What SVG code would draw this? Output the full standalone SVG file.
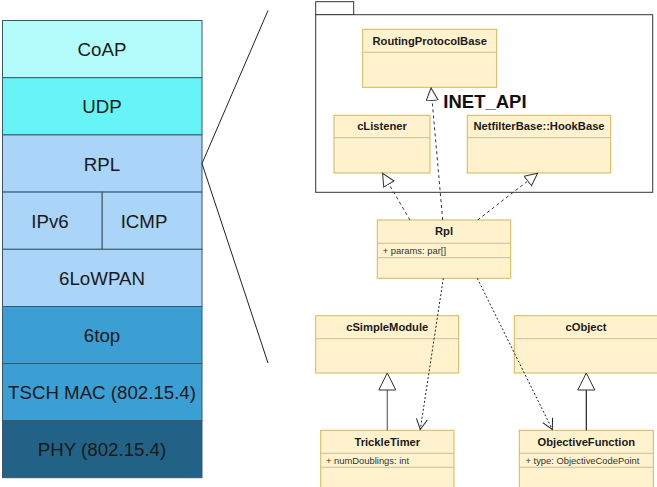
<svg xmlns="http://www.w3.org/2000/svg" width="657" height="487" viewBox="0 0 657 487">
<style>
.layer{stroke:#3b5868;stroke-width:1}
.lt{font-family:"Liberation Sans",Arial,sans-serif;font-size:18.7px;fill:#1a1a1a;text-anchor:middle}
.cls{fill:#fff2cc;stroke:#d6b656;stroke-width:1}
.div{stroke:#c4bea9;stroke-width:1}
.cn{font-family:"Liberation Sans",Arial,sans-serif;font-size:11.2px;font-weight:bold;fill:#1a1a1a;text-anchor:middle}
.at{font-family:"Liberation Sans",Arial,sans-serif;font-size:9.4px;fill:#333}
.dash{fill:none;stroke:#333;stroke-width:1;stroke-dasharray:3 3}
.dep{fill:none;stroke:#222;stroke-width:1;stroke-dasharray:2 2}
</style>
<defs>
<marker id="tri" markerUnits="userSpaceOnUse" markerWidth="16" markerHeight="16" refX="13" refY="6.5" orient="auto">
<path d="M0.5,0.5 L13,6.5 L0.5,12.5 Z" fill="#fff" stroke="#333" stroke-width="1"/>
</marker>
<marker id="triBig" markerUnits="userSpaceOnUse" markerWidth="20" markerHeight="20" refX="17.5" refY="9" orient="auto">
<path d="M0.5,0.5 L17.5,9 L0.5,17.5 Z" fill="#fff" stroke="#333" stroke-width="1"/>
</marker>
<marker id="open" markerUnits="userSpaceOnUse" markerWidth="14" markerHeight="14" refX="11" refY="6" orient="auto">
<path d="M0.5,0.5 L11,6 L0.5,11.5" fill="none" stroke="#222" stroke-width="1"/>
</marker>
</defs>

<g id="stack">
<g id="coap"><rect class="layer" x="2.5" y="20.5" width="199.5" height="57.2" fill="#b3fcfb"/><text class="lt" x="102" y="56.1">CoAP</text></g>
<g id="udp"><rect class="layer" x="2.5" y="77.7" width="199.5" height="57.2" fill="#66f4f7"/><text class="lt" x="102" y="113.3">UDP</text></g>
<g id="rpl-layer"><rect class="layer" x="2.5" y="134.9" width="199.5" height="57.2" fill="#aad4f8"/><text class="lt" x="102" y="170.5">RPL</text></g>
<g id="ipv6"><rect class="layer" x="2.5" y="192.1" width="99.7" height="57.2" fill="#aad4f8"/><text class="lt" x="50" y="227.7">IPv6</text></g>
<g id="icmp"><rect class="layer" x="102.2" y="192.1" width="99.8" height="57.2" fill="#aad4f8"/><text class="lt" x="144" y="227.7">ICMP</text></g>
<g id="sixlowpan"><rect class="layer" x="2.5" y="249.3" width="199.5" height="57.2" fill="#aad4f8"/><text class="lt" x="102" y="284.9">6LoWPAN</text></g>
<g id="sixtop"><rect class="layer" x="2.5" y="306.5" width="199.5" height="57" fill="#3c9fd4"/><text class="lt" x="102" y="342">6top</text></g>
<g id="tsch"><rect class="layer" x="2.5" y="363.5" width="199.5" height="57" fill="#3c9fd4"/><text class="lt" x="102" y="399">TSCH MAC (802.15.4)</text></g>
<g id="phy"><rect class="layer" x="2.5" y="420.5" width="199.5" height="57.2" fill="#216286"/><text class="lt" x="102" y="456">PHY (802.15.4)</text></g>
</g>

<g id="zoom-lines" stroke="#222" stroke-width="1" fill="none">
<path d="M202,163.5 L268,10.5"/>
<path d="M202,163.5 L268,363"/>
</g>

<g id="package">
<rect x="315.7" y="1.7" width="38" height="13" fill="#fff" stroke="#333" stroke-width="1"/>
<rect x="315.7" y="14.7" width="337" height="177.6" fill="#fff" stroke="#333" stroke-width="1"/>
<text x="443.3" y="107.5" font-family="'Liberation Sans',Arial,sans-serif" font-size="18.5" font-weight="bold" fill="#111">INET_API</text>
</g>

<g id="RoutingProtocolBase">
<rect class="cls" x="362.7" y="29.3" width="134" height="58"/>
<line class="div" x1="362.7" y1="52.3" x2="496.7" y2="52.3"/>
<text class="cn" x="429.7" y="44.7">RoutingProtocolBase</text>
</g>
<g id="cListener">
<rect class="cls" x="334" y="115.3" width="96" height="57.7"/>
<line class="div" x1="334" y1="137.7" x2="430" y2="137.7"/>
<text class="cn" x="382" y="130.4">cListener</text>
</g>
<g id="HookBase">
<rect class="cls" x="467.3" y="115.3" width="143.4" height="57.7"/>
<line class="div" x1="467.3" y1="137.7" x2="610.7" y2="137.7"/>
<text class="cn" x="539" y="130.4">NetfilterBase::HookBase</text>
</g>
<g id="Rpl">
<rect class="cls" x="377.3" y="220" width="133.4" height="58.3"/>
<line class="div" x1="377.3" y1="243.3" x2="510.7" y2="243.3"/>
<line class="div" x1="377.3" y1="257.7" x2="510.7" y2="257.7"/>
<text class="cn" x="444" y="235.2">Rpl</text>
<text class="at" x="382.7" y="253.9">+ params: par[]</text>
</g>
<g id="cSimpleModule">
<rect class="cls" x="315.7" y="315.7" width="143" height="57.3"/>
<line class="div" x1="315.7" y1="338.7" x2="458.7" y2="338.7"/>
<text class="cn" x="387.2" y="331.1">cSimpleModule</text>
</g>
<g id="cObject">
<rect class="cls" x="514.3" y="315.7" width="145" height="57.3"/>
<line class="div" x1="514.3" y1="338.7" x2="657" y2="338.7"/>
<text class="cn" x="586" y="331.1">cObject</text>
</g>
<g id="TrickleTimer">
<rect class="cls" x="320.7" y="430.3" width="133.3" height="60"/>
<line class="div" x1="320.7" y1="453.3" x2="454" y2="453.3"/>
<line class="div" x1="320.7" y1="467.3" x2="454" y2="467.3"/>
<text class="cn" x="387.3" y="445.7">TrickleTimer</text>
<text class="at" x="326" y="463.7">+ numDoublings: int</text>
</g>
<g id="ObjectiveFunction">
<rect class="cls" x="519.3" y="430.3" width="134" height="60"/>
<line class="div" x1="519.3" y1="453.3" x2="653.3" y2="453.3"/>
<line class="div" x1="519.3" y1="467.3" x2="653.3" y2="467.3"/>
<text class="cn" x="586.3" y="445.7">ObjectiveFunction</text>
<text class="at" x="525.5" y="463.7">+ type: ObjectiveCodePoint</text>
</g>

<g id="connectors">
<path class="dash" d="M442.7,220 L431,88" marker-end="url(#tri)"/>
<path class="dash" d="M410,220 L382.6,173.3" marker-end="url(#tri)"/>
<path class="dash" d="M477.7,220 L537.6,173.3" marker-end="url(#tri)"/>
<path d="M387.3,430.3 L387.3,373" fill="none" stroke="#666" stroke-width="1.2" marker-end="url(#triBig)"/>
<path d="M586.3,430.3 L586.3,373" fill="none" stroke="#222" stroke-width="1.2" marker-end="url(#triBig)"/>
<path class="dep" d="M443.3,278.3 L420.3,429.5" marker-end="url(#open)"/>
<path class="dep" d="M477.3,278.3 L552.3,429.5" marker-end="url(#open)"/>
</g>
</svg>
